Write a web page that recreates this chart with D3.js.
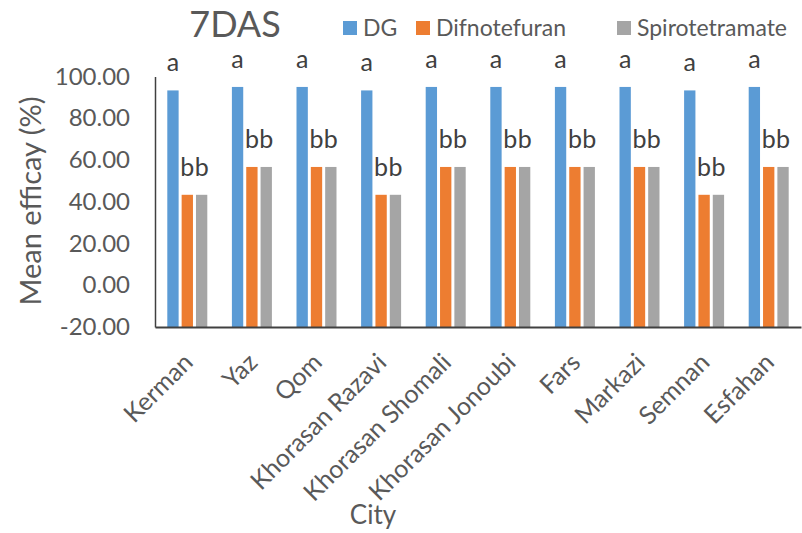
<!DOCTYPE html>
<html><head><meta charset="utf-8">
<script src="https://cdn.jsdelivr.net/npm/d3@7"></script>
<style>
html,body{margin:0;padding:0;background:#fff;}
svg text{font-family:Lato,"Open Sans",sans-serif;fill:#595959;}
</style></head>
<body>
<svg id="chart" width="802" height="533"></svg>
<script>
const cities = ["Kerman","Yaz","Qom","Khorasan Razavi","Khorasan Shomali","Khorasan Jonoubi","Fars","Markazi","Semnan","Esfahan"];
const seriesNames = ["DG","Difnotefuran","Spirotetramate"];
const dgValues = [93.33,95,95,93.33,95,95,95,95,93.33,95];
const difValues = [43.33,56.67,56.67,43.33,56.67,56.67,56.67,56.67,43.33,56.67];
const spiroValues = [43.33,56.67,56.67,43.33,56.67,56.67,56.67,56.67,43.33,56.67];
const dgLetters = ["a","a","a","a","a","a","a","a","a","a"];
const difLetters = ["b","b","b","b","b","b","b","b","b","b"];
const spiroLetters = ["b","b","b","b","b","b","b","b","b","b"];
const yTicks = [-20,0,20,40,60,80,100];
const colors = ["#5B9BD5","#ED7D31","#A5A5A5"];

const seriesValues = [dgValues, difValues, spiroValues];
const seriesLetters = [dgLetters, difLetters, spiroLetters];

const svg = d3.select("#chart");
const mLeft = 155, mRight = 801, mTop = 76.5, mBottom = 327;

const x = d3.scaleBand().domain(cities).range([mLeft, mRight]).paddingInner(0).paddingOuter(0);
const y = d3.scaleLinear().domain([-20, 100]).range([mBottom, mTop]);
const groupW = 40;
const x1 = d3.scaleBand().domain(seriesNames).range([0, groupW]).paddingInner(0.21);

// bars
seriesNames.forEach((s, si) => {
  svg.append("g").selectAll("rect").data(cities).join("rect")
    .attr("x", c => x(c) + x.bandwidth()/2 - groupW/2 + x1(s))
    .attr("width", x1.bandwidth())
    .attr("y", (c, i) => y(seriesValues[si][i]))
    .attr("height", (c, i) => y(-20) - y(seriesValues[si][i]))
    .attr("fill", colors[si]);
  svg.append("g").selectAll("text").data(cities).join("text")
    .attr("x", c => x(c) + x.bandwidth()/2 - groupW/2 + x1(s) + x1.bandwidth()/2)
    .attr("y", (c, i) => y(seriesValues[si][i]) - 19)
    .attr("text-anchor", "middle")
    .style("font-size", "25px")
    .style("fill", "#404040")
    .text((c, i) => seriesLetters[si][i]);
});

// y axis
const fmt = d3.format(".2f");
const yAxis = d3.axisLeft(y).tickValues(yTicks).tickFormat(d => fmt(d).replace("\u2212", "-")).tickSize(0).tickPadding(25);
const gy = svg.append("g").attr("transform", `translate(${mLeft},0)`).call(yAxis);
gy.select(".domain").attr("stroke", "#404040").attr("stroke-width", 1.5);
gy.selectAll("text").style("font-size", "24px").style("fill", "#595959").attr("font-family", null);

// x axis
const xAxis = d3.axisBottom(x).tickSize(0).tickPadding(0);
const gx = svg.append("g").attr("transform", `translate(0,${mBottom})`).call(xAxis);
gx.select(".domain").attr("stroke", "#404040").attr("stroke-width", 2);
gx.selectAll("text")
  .attr("font-family", null)
  .style("font-size", "25px").style("fill", "#595959")
  .attr("text-anchor", "end")
  .attr("dy", null).attr("y", null)
  .attr("transform", "translate(7,37) rotate(-45)");

// axis titles
svg.append("text").attr("x", 373).attr("y", 524).attr("text-anchor", "middle")
  .style("font-size", "26px").text("City");
svg.append("text").attr("transform", "translate(41,201) rotate(-90)").attr("text-anchor", "middle")
  .style("font-size", "29px").text("Mean efficay (%)");

// title
svg.append("text").attr("x", 235).attr("y", 37).attr("text-anchor", "middle")
  .style("font-size", "36px").text("7DAS");

// legend
const legendX = [343, 416, 617];
seriesNames.forEach((s, si) => {
  svg.append("rect").attr("x", legendX[si]).attr("y", 21).attr("width", 14).attr("height", 14).attr("fill", colors[si]);
  svg.append("text").attr("x", legendX[si] + 20).attr("y", 35.5).style("font-size", "23px").text(s);
});
</script>
</body></html>
